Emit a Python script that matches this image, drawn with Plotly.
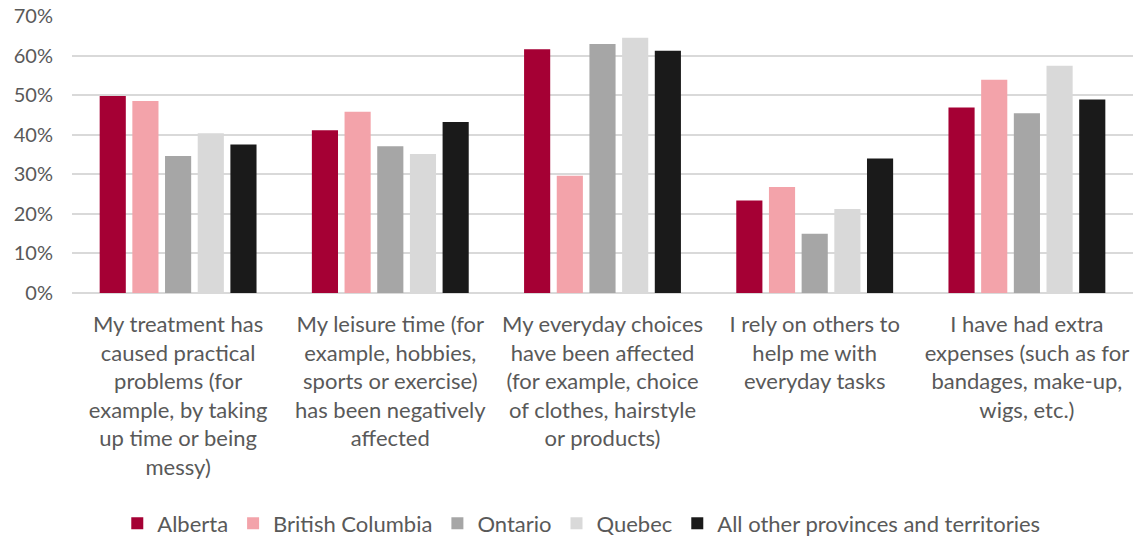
import plotly.graph_objects as go

categories = [
    "My treatment has<br>caused practical<br>problems (for<br>example, by taking<br>up time or being<br>messy)",
    "My leisure time (for<br>example, hobbies,<br>sports or exercise)<br>has been negatively<br>affected",
    "My everyday choices<br>have been affected<br>(for example, choice<br>of clothes, hairstyle<br>or products)",
    "I rely on others to<br>help me with<br>everyday tasks",
    "I have had extra<br>expenses (such as for<br>bandages, make-up,<br>wigs, etc.)",
]

alberta = [49.8, 41.1, 61.6, 23.4, 46.9]
british_columbia = [48.5, 45.8, 29.6, 26.8, 53.9]
ontario = [34.6, 37.1, 62.9, 15.0, 45.4]
quebec = [40.4, 35.1, 64.5, 21.2, 57.4]
all_other = [37.5, 43.2, 61.2, 34.0, 48.9]

series = [
    ("Alberta", alberta, "#A50034"),
    ("British Columbia", british_columbia, "#F3A3AA"),
    ("Ontario", ontario, "#A6A6A6"),
    ("Quebec", quebec, "#D9D9D9"),
    ("All other provinces and territories", all_other, "#1A1A1A"),
]

font_family = "Lato, 'Open Sans', sans-serif"
text_color = "#595959"

fig = go.Figure()
for name, values, color in series:
    fig.add_trace(go.Bar(
        name=name,
        x=categories,
        y=values,
        marker=dict(color=color, line=dict(width=0)),
    ))

fig.update_layout(
    width=1136,
    height=537,
    barmode="group",
    bargap=0.23,
    bargroupgap=0.2,
    plot_bgcolor="white",
    paper_bgcolor="white",
    margin=dict(l=72, r=3, t=16, b=244, autoexpand=False),
    font=dict(family=font_family, color=text_color, size=18),
    legend=dict(
        orientation="h",
        x=0.48,
        xanchor="center",
        y=-0.832,
        yanchor="middle",
        font=dict(size=22, color=text_color),
        itemwidth=30,
        traceorder="normal",
    ),
    xaxis=dict(
        showgrid=False,
        showline=False,
        ticks="",
        automargin=False,
        ticklabelstandoff=16,
        tickfont=dict(size=22, color=text_color),
        tickangle=0,
    ),
    yaxis=dict(
        range=[0, 70],
        dtick=10,
        ticksuffix="%",
        showgrid=True,
        gridcolor="#D9D9D9",
        gridwidth=1.5,
        zeroline=True,
        zerolinecolor="#D9D9D9",
        zerolinewidth=1.5,
        showline=False,
        ticks="",
        automargin=False,
        ticklabelstandoff=18,
        tickfont=dict(size=20, color=text_color),
    ),
)

fig.write_html("out.html")
